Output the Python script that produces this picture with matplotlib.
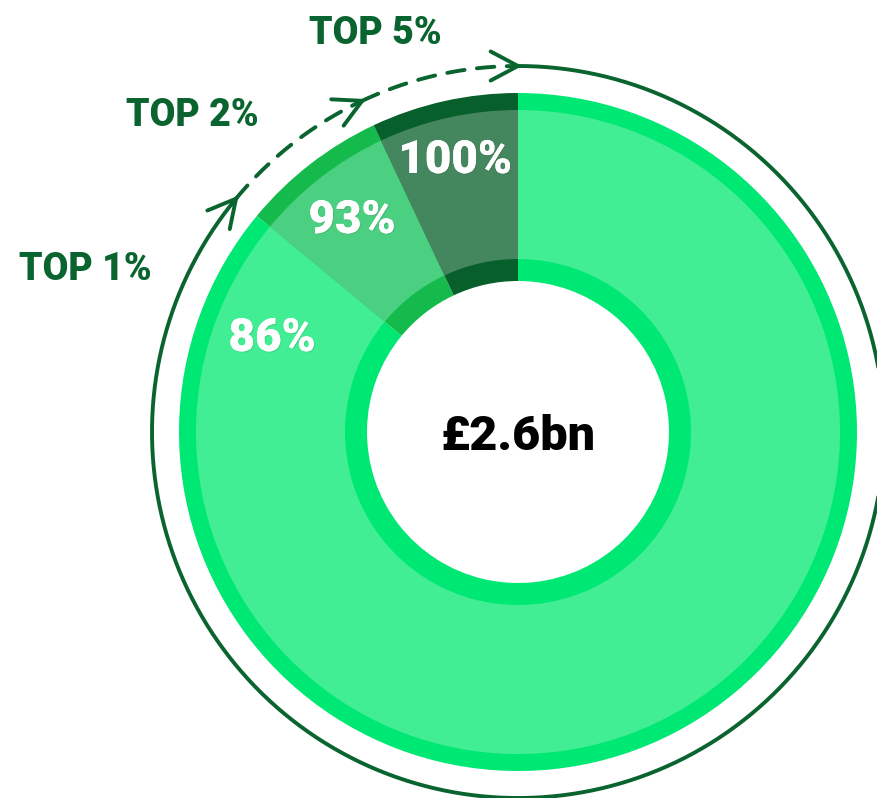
import numpy as np
import matplotlib
matplotlib.use("Agg")
import matplotlib.pyplot as plt
import matplotlib.patheffects as pe

# cumulative share of the total held by each group
groups = ["TOP 1%", "TOP 2%", "TOP 5%"]
cumulative_share = [86, 93, 100]
share_labels = ["86%", "93%", "100%"]
total_label = "£2.6bn"

band_colors = ["#00e874", "#14bb4c", "#075f2b"]
fill_colors = ["#42ee94", "#4bcf80", "#44875e"]
line_color = "#0a642f"

slices = np.diff([0] + cumulative_share)
bounds = np.array([0] + cumulative_share) * 3.6  # degrees clockwise from top

# layout in pixel units, centre of ring at origin
R_OUT, R_IN = 339, 151
BAND_OUT, BAND_IN = 17, 22
R_ARC = 366
W, H = 878, 798
CX, CY = 518, 432

fig = plt.figure(figsize=(W / 100, H / 100), dpi=100)
ax = fig.add_axes([0, 0, 1, 1])

ax.pie(slices, radius=R_OUT, colors=band_colors, startangle=90, counterclock=False,
       wedgeprops=dict(width=R_OUT - R_IN, linewidth=0))
ax.pie(slices, radius=R_OUT - BAND_OUT, colors=fill_colors, startangle=90, counterclock=False,
       wedgeprops=dict(width=R_OUT - BAND_OUT - R_IN - BAND_IN, linewidth=0))


def on_circle(a_deg, r):
    a = np.radians(a_deg)
    return r * np.sin(a), r * np.cos(a)


def chevron(a_deg, r, length=31, half=28):
    tip = np.array(on_circle(a_deg, r))
    a = np.radians(a_deg)
    back = -np.array([np.cos(a), -np.sin(a)])
    for s in (-1, 1):
        t = np.radians(s * half)
        rot = np.array([[np.cos(t), -np.sin(t)], [np.sin(t), np.cos(t)]])
        arm = tip + length * rot @ back
        ax.plot([tip[0], arm[0]], [tip[1], arm[1]], color=line_color, lw=2.8,
                solid_capstyle="round")


# solid arc: top 1% share, from the top round clockwise
a = np.linspace(0, bounds[1], 400)
x, y = on_circle(a, R_ARC)
ax.plot(x, y, color=line_color, lw=2.8)
chevron(bounds[1], R_ARC)

# dashed arcs for the next groups
for i in range(1, len(bounds) - 1):
    a = np.linspace(bounds[i], bounds[i + 1], 100)
    x, y = on_circle(a, R_ARC)
    ax.plot(x, y, color=line_color, lw=2.8, linestyle=(0, (4.5, 3.2)), dash_capstyle="round")
    chevron(bounds[i + 1], R_ARC)

fontname = ["Roboto", "DejaVu Sans"]

# group labels
group_pos = [(85, 270), (192, 115), (375, 33)]
for lab, (px, py) in zip(groups, group_pos):
    ax.text(px - CX, CY - py, lab, ha="center", va="center", fontsize=27,
            fontweight=900, color=line_color, family=fontname)

# share labels inside the ring
share_pos = [(272, 338), (352, 220), (455, 160)]
for lab, (px, py) in zip(share_labels, share_pos):
    ax.text(px - CX, CY - py, lab, ha="center", va="center", fontsize=33,
            fontweight=900, color="white", family=fontname,
            path_effects=[pe.withSimplePatchShadow(offset=(0.8, -0.8), alpha=0.15),
                          pe.Normal()])

ax.text(0, -5, total_label, ha="center", va="center", fontsize=35,
        fontweight=900, color="black", family=fontname)

ax.set_xlim(-CX, W - CX)
ax.set_ylim(-(H - CY), CY)
ax.set_aspect("equal")
ax.axis("off")

fig.savefig("out.png", dpi=100)
